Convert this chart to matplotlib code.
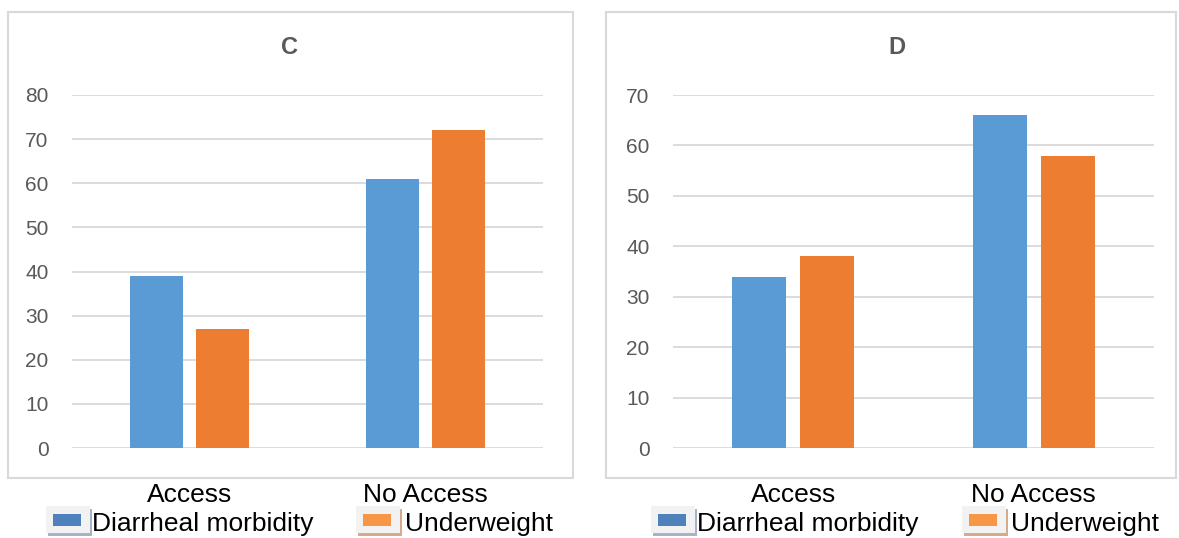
#two bar panels (C, D): diarrheal morbidity vs underweight by access
import numpy as np
import matplotlib
matplotlib.use("Agg")
import matplotlib.pyplot as plt
import matplotlib.patches as mpatches

plt.rcParams['font.family'] = ['Liberation Sans', 'DejaVu Sans']

categories = ['Access', 'No Access']
series_names = ['Diarrheal morbidity', 'Underweight']
c_diarrheal = [39, 61]
c_underweight = [27, 72]
d_diarrheal = [34, 66]
d_underweight = [38, 58]

W, H = 1179, 538
BLUE = '#5b9bd5'
ORANGE = '#ed7d31'
GRID = '#d9d9d9'

fig = plt.figure(figsize=(W/100, H/100), dpi=100)

def px(x, y, w, h):
    # pixel box (top-left origin) -> figure fraction
    return [x/W, 1 - (y + h)/H, w/W, h/H]

def frame(x0, x1):
    r = mpatches.Rectangle((x0/W, 1 - 478/H), (x1 - x0)/W, (478 - 12)/H,
                           transform=fig.transFigure, fill=False,
                           edgecolor=GRID, lw=1.5)
    fig.patches.append(r)

def legend_icon(x, y, inner, shadow):
    sh = mpatches.Rectangle(((x + 2)/W, 1 - (y + 30)/H), 44/W, 27/H,
                            transform=fig.transFigure, facecolor=shadow,
                            edgecolor='none')
    box = mpatches.Rectangle((x/W, 1 - (y + 27)/H), 44/W, 27/H,
                             transform=fig.transFigure, facecolor='#f2f2f2',
                             edgecolor='none')
    fill = mpatches.Rectangle(((x + 7)/W, 1 - (y + 20)/H), 28/W, 12/H,
                              transform=fig.transFigure, facecolor=inner,
                              edgecolor='none')
    fig.patches.extend([sh, box, fill])

def panel(rect, title, blue_vals, orange_vals, ymax, step, title_x):
    ax = fig.add_axes(rect)
    x = np.arange(len(categories))
    w = 0.225
    ax.bar(x - 0.141, blue_vals, w, color=BLUE, zorder=3)
    ax.bar(x + 0.141, orange_vals, w, color=ORANGE, zorder=3)
    ax.set_xlim(-0.5, 1.5)
    ax.set_ylim(0, ymax)
    ax.set_yticks(np.arange(0, ymax + 1, step))
    ax.grid(axis='y', color=GRID, lw=1.3, zorder=0)
    for s in ax.spines.values():
        s.set_visible(False)
    ax.tick_params(axis='y', length=0, pad=17, labelsize=15, labelcolor='#595959')
    ax.set_xticks(x)
    ax.set_xticklabels(categories, fontsize=19, color='black')
    ax.tick_params(axis='x', length=0, pad=25)
    ax.set_facecolor('none')
    fig.text(title_x/W, 1 - 48/H, title, ha='center', va='center',
             fontsize=17, fontweight='bold', color='#595959')
    return ax

frame(8, 573)
frame(606, 1176)

panel(px(72, 95, 471, 353), 'C', c_diarrheal, c_underweight, 80, 10, 290)
panel(px(673, 95, 481, 353), 'D', d_diarrheal, d_underweight, 70, 10, 897)

# legends under each panel
for ix, (bx, ox) in enumerate([(46, 356), (651, 962)]):
    legend_icon(bx, 506, '#4f81bd', '#a6b4c8')
    legend_icon(ox, 506, '#f79646', '#d6aa8a')
    fig.text((bx + 46)/W, 1 - 524/H, series_names[0], ha='left', va='center',
             fontsize=19, color='black')
    fig.text((ox + 49)/W, 1 - 524/H, series_names[1], ha='left', va='center',
             fontsize=19, color='black')

fig.savefig('out.png', dpi=100)
